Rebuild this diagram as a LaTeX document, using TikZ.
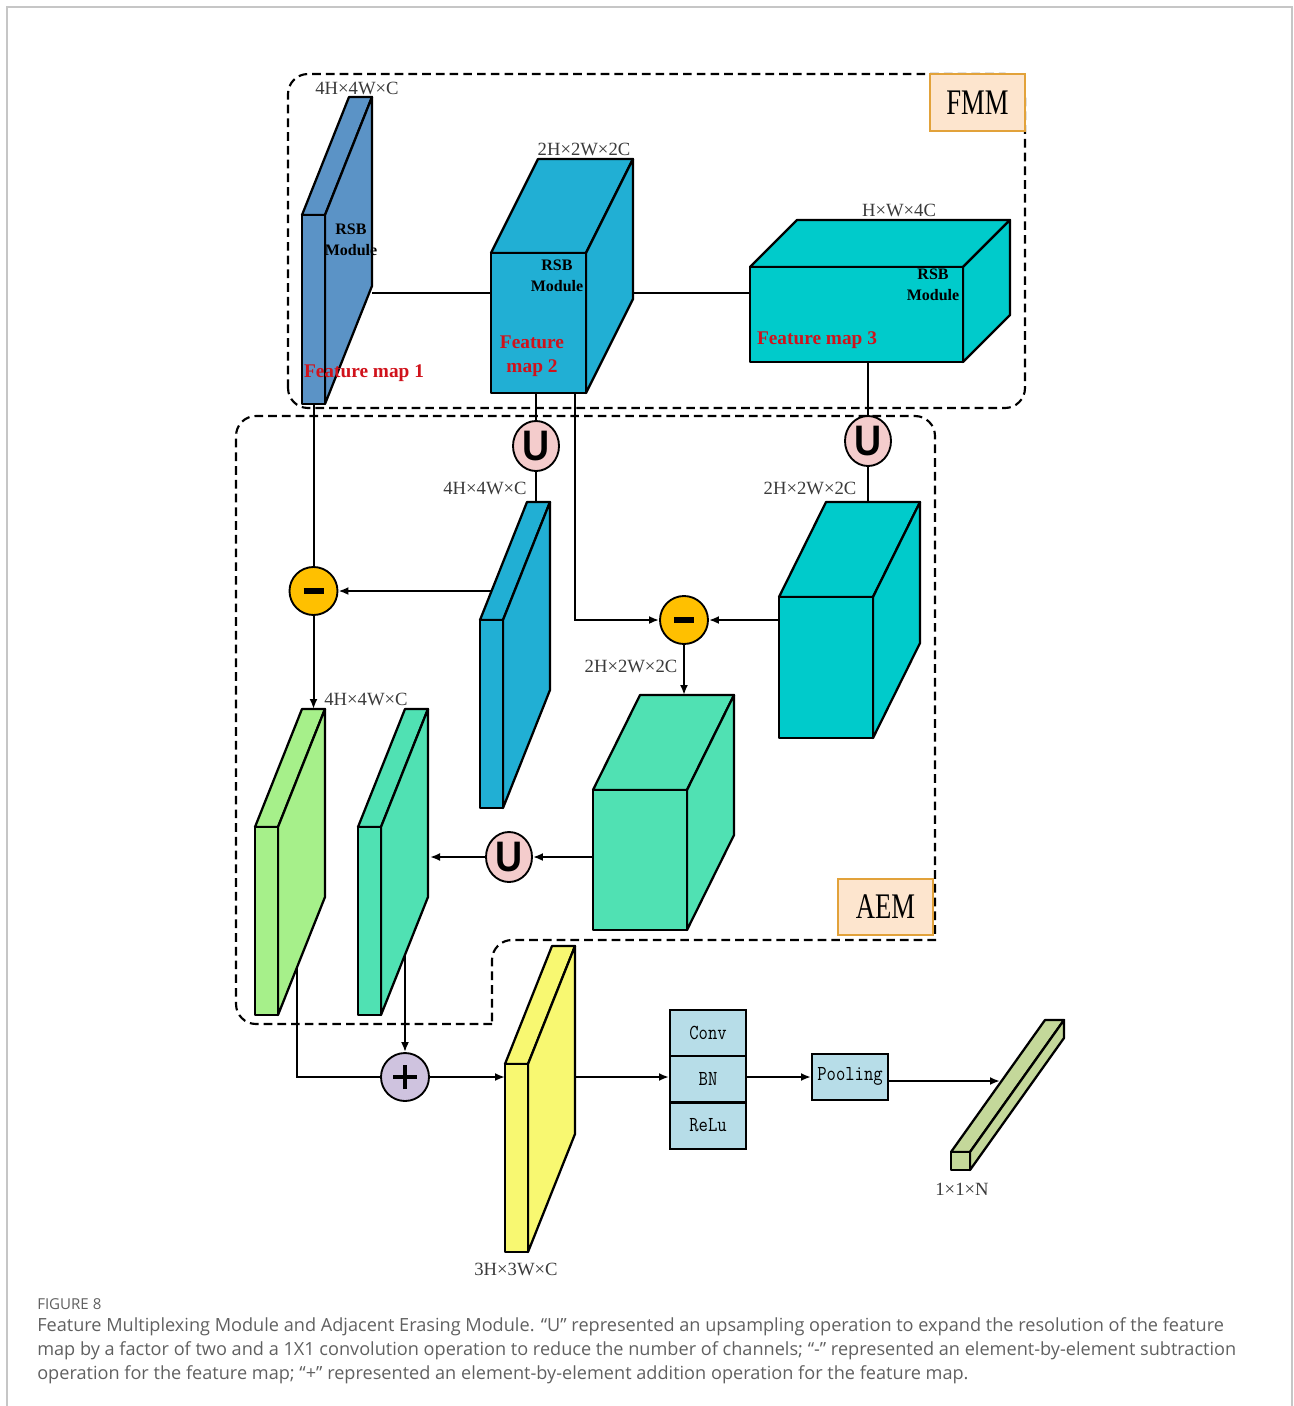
\documentclass[tikz,border=0pt]{standalone}
\usepackage{fontspec}
\usepackage{graphicx}
\setmainfont{Liberation Serif}
\newfontfamily\capfont{Open Sans}
\newfontfamily\usans{Liberation Sans}
\usetikzlibrary{arrows.meta,fit,shapes.geometric}
\definecolor{fmone}{HTML}{5B93C6}
\definecolor{fmtwo}{HTML}{21AFD4}
\definecolor{fmthree}{HTML}{00CBCB}
\definecolor{mint}{HTML}{50E1B3}
\definecolor{lgreen}{HTML}{A6F08A}
\definecolor{yel}{HTML}{F8F871}
\definecolor{olive}{HTML}{C4D89A}
\definecolor{stackblue}{HTML}{B7DDE8}
\definecolor{upink}{HTML}{F4CCCC}
\definecolor{mgold}{HTML}{FFC000}
\definecolor{plav}{HTML}{CFC3DF}
\definecolor{tagfill}{HTML}{FDE5CE}
\definecolor{tagedge}{HTML}{E2A23A}
\definecolor{fmred}{HTML}{D0121B}
\definecolor{dimgray}{HTML}{3A3A3A}
\definecolor{capgray}{HTML}{606060}
\definecolor{framegray}{HTML}{C6C6C6}
\tikzset{
  cubeedge/.style={line width=1.7pt, draw=black, line join=round},
  conn/.style={line width=1.5pt, draw=black},
  arr/.style={conn, -{Latex[length=7.5pt,width=6pt]}},
  dashbox/.style={line width=1.6pt, dash pattern=on 6.5pt off 3.8pt},
  tag/.style={draw=tagedge, fill=tagfill, line width=1.6pt, minimum width=71.25pt, minimum height=42.5pt, inner sep=0pt, font=\fontsize{27}{27}\selectfont},
  ucirc/.style={ellipse, draw=black, line width=1.4pt, fill=upink, minimum width=34.5pt, minimum height=37.5pt, inner sep=0pt, font=\usans\bfseries\fontsize{32}{32}\selectfont},
  opcirc/.style={circle, draw=black, line width=1.4pt, minimum size=36pt, inner sep=0pt},
  dimlab/.style={font=\fontsize{14}{14}\selectfont, text=dimgray, inner sep=1pt},
  fmlab/.style={font=\bfseries\fontsize{14.5}{18}\selectfont, text=fmred, align=center, inner sep=0pt},
  rsb/.style={font=\bfseries\fontsize{12}{15.75}\selectfont, align=center, inner sep=0pt},
  stackbox/.style={draw=black, line width=1.5pt, fill=stackblue, minimum width=57pt, minimum height=34.5pt, inner sep=0pt, font=\ttfamily\fontsize{16}{16}\selectfont},
  caption/.style={anchor=west, inner sep=0pt, text=capgray, font=\capfont\fontsize{13.6}{13.6}\selectfont}
}
% #1 name, #2 x1, #3 y1 (top), #4 x2, #5 y2 (bottom), #6 dx, #7 dy, #8 fill
\newcommand{\cuboid}[8]{%
  \filldraw[cubeedge, fill=#8] (#2,#3) -- ({#2+#6},{#3-#7}) -- ({#4+#6},{#3-#7}) -- (#4,#3) -- cycle;
  \filldraw[cubeedge, fill=#8] (#4,#3) -- ({#4+#6},{#3-#7}) -- ({#4+#6},{#5-#7}) -- (#4,#5) -- cycle;
  \coordinate (#1-a) at (#2,#3);
  \coordinate (#1-b) at (#4,#5);
  \node[cubeedge, fill=#8, inner sep=0pt, outer sep=0pt, fit=(#1-a)(#1-b)] (#1) {};
}
\begin{document}
\begin{tikzpicture}[x=0.75pt,y=-0.75pt]
\useasboundingbox (0,0) rectangle (1293,1406);
% outer frame
\draw[framegray, line width=1.1pt] (7,1406) -- (7,7) -- (1292,7) -- (1292,1406);

% dashed module boxes
\draw[dashbox, rounded corners=15pt] (288,408) rectangle (1025,74);
\draw[dashbox] (492,1024) [rounded corners=15pt] -- (236,1024) -- (236,416) -- (935,416) [sharp corners] -- (935,940) [rounded corners=15pt] -- (492,940) [sharp corners] -- cycle;

% FMM cuboids
\cuboid{fm1}{302}{215}{325}{404}{47}{118}{fmone}
\cuboid{fm2}{491}{253}{586}{393}{47}{94}{fmtwo}
\cuboid{fm3}{750}{267}{963}{362}{47}{47}{fmthree}

% AEM cuboids
\cuboid{up2}{480}{620}{503}{808}{47}{118}{fmtwo}
\cuboid{up3}{779}{597}{873}{738}{47}{95}{fmthree}
\cuboid{er3}{593}{790}{687}{930}{47}{95}{mint}
\cuboid{er1}{255}{827}{278}{1015}{47}{118}{lgreen}
\cuboid{er2}{358}{827}{381}{1015}{47}{118}{mint}

% output cuboids
\cuboid{fused}{505}{1064}{528}{1252}{47}{118}{yel}
\cuboid{out}{951}{1152}{970}{1170}{94}{132}{olive}

% tags
\node[tag] (fmm) at (977.5,102.5) {\scalebox{0.74}[1]{FMM}};
\node[tag] (aem) at (885.5,907) {\scalebox{0.74}[1]{AEM}};

% dimension labels
\node[dimlab] (d1) at (357,88) {4H×4W×C};
\node[dimlab] (d2) at (584,149) {2H×2W×2C};
\node[dimlab] (d3) at (899,210) {H×W×4C};
\node[dimlab] (d4) at (485,488) {4H×4W×C};
\node[dimlab] (d5) at (810,488) {2H×2W×2C};
\node[dimlab] (d6) at (631,666) {2H×2W×2C};
\node[dimlab] (d7) at (366,699) {4H×4W×C};
\node[dimlab] (d8) at (516,1269) {3H×3W×C};
\node[dimlab] (d9) at (962,1189) {1×1×N};

% module texts
\node[rsb] (r1) at (351,240) {RSB\\Module};
\node[rsb] (r2) at (557,275.5) {RSB\\Module};
\node[rsb] (r3) at (933,285) {RSB\\Module};
\node[fmlab] (f1) at (364,373) {Feature map 1};
\node[fmlab] (f2) at (532,356) {Feature\\map 2};
\node[fmlab] (f3) at (817,340) {Feature map 3};

% operation nodes
\node[ucirc] (u1) at (536,446) {\scalebox{0.88}[1]{U}};
\node[ucirc] (u2) at (868,441) {\scalebox{0.88}[1]{U}};
\node[ucirc] (u3) at (509,857) {\scalebox{0.88}[1]{U}};
\node[opcirc, fill=mgold] (m1) at (313.5,591) {};
\node[opcirc, fill=mgold] (m2) at (684,620) {};
\node[opcirc, fill=plav] (plus) at (405,1077) {};
\draw[line width=3.8pt] ([xshift=-7.5pt]m1.center) -- ([xshift=7.5pt]m1.center);
\draw[line width=3.8pt] ([xshift=-7.5pt]m2.center) -- ([xshift=7.5pt]m2.center);
\draw[line width=3pt] ([xshift=-9pt]plus.center) -- ([xshift=9pt]plus.center);
\draw[line width=3pt] ([yshift=-9pt]plus.center) -- ([yshift=9pt]plus.center);

% head nodes
\node[stackbox] (conv) at (708,1033) {\scalebox{0.85}[1]{Conv}};
\node[stackbox] (bn) at (708,1079) {\scalebox{0.85}[1]{BN}};
\node[stackbox] (relu) at (708,1125.5) {\scalebox{0.85}[1]{ReLu}};
\node[stackbox] (pool) at (850,1076.5) {\scalebox{0.85}[1]{Pooling}};

% connector coordinates
\coordinate (fm1r) at (372,293);
\coordinate (fm2r) at (633,293);
\coordinate (fm2tap) at (575,393);
\coordinate (up2top) at (536,502);
\coordinate (up3top) at (868,502);
\coordinate (up2l) at (491,591);
\coordinate (er1top) at (313.5,709);
\coordinate (er3top) at (684,695);
\coordinate (er2r) at (430,857);
\coordinate (er1tap) at (297,967);
\coordinate (er2tap) at (405,956);
\coordinate (fusedr) at (575,1077);
\coordinate (outhit) at (1000,1081);

% connectors
\draw[conn] (fm1r) -- (fm1r -| fm2.west);
\draw[conn] (fm2r) -- (fm2r -| fm3.west);
\draw[conn] (u1.north |- fm2.south) -- (u1.north);
\draw[conn] (u1.south) -- (up2top);
\draw[conn] (u2.north |- fm3.south) -- (u2.north);
\draw[conn] (u2.south) -- (up3top);
\draw[conn] (fm1.south) -- (m1.north);
\draw[arr] (up2l) -- (m1.east);
\draw[arr] (m1.south) -- (er1top);
\draw[arr] (fm2tap) |- (m2.west);
\draw[arr] (up3.west |- m2) -- (m2.east);
\draw[arr] (m2.south) -- (er3top);
\draw[arr] (er3.west |- u3) -- (u3.east);
\draw[arr] (u3.west) -- (er2r);
\draw[conn] (er1tap) |- (plus.west);
\draw[arr] (er2tap) -- (plus.north);
\draw[arr] (plus.east) -- (fused.west |- plus);
\draw[arr] (fusedr) -- (fusedr -| bn.west);
\draw[arr] (bn.east |- fusedr) -- (pool.west |- fusedr);
\draw[arr] (pool.east |- outhit) -- (outhit);

% caption
\node[caption, font=\capfont\fontsize{11.3}{11.3}\selectfont] (cap0) at (37,1304) {FIGURE 8};
\node[caption] (cap1) at (37,1327) {Feature Multiplexing Module and Adjacent Erasing Module. “U” represented an upsampling operation to expand the resolution of the feature};
\node[caption] (cap2) at (37,1351) {map by a factor of two and a 1X1 convolution operation to reduce the number of channels; “-” represented an element-by-element subtraction};
\node[caption] (cap3) at (37,1375) {operation for the feature map; “+” represented an element-by-element addition operation for the feature map.};
\end{tikzpicture}
\end{document}
